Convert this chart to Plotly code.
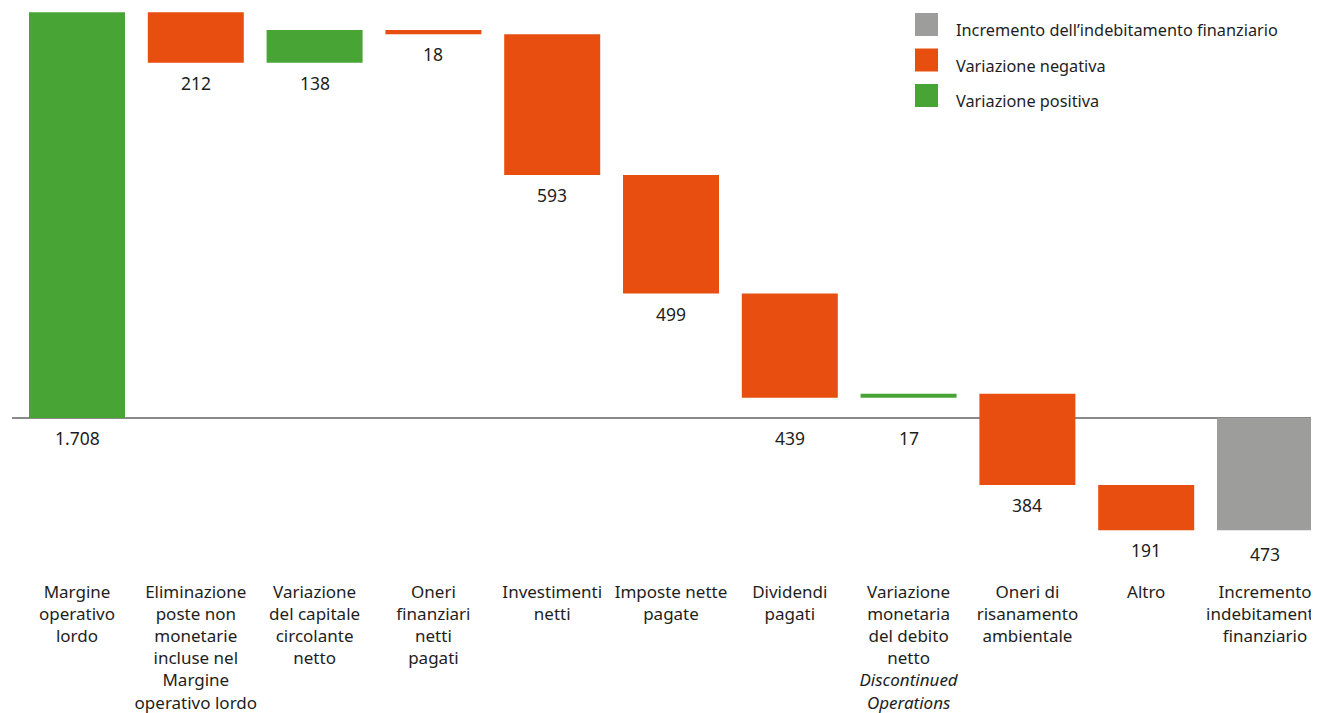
import numpy as np
import plotly.graph_objects as go

categories = [
    "Margine<br>operativo<br>lordo",
    "Eliminazione<br>poste non<br>monetarie<br>incluse nel<br>Margine<br>operativo lordo",
    "Variazione<br>del capitale<br>circolante<br>netto",
    "Oneri<br>finanziari<br>netti<br>pagati",
    "Investimenti<br>netti",
    "Imposte nette<br>pagate",
    "Dividendi<br>pagati",
    "Variazione<br>monetaria<br>del debito<br>netto<br><i>Discontinued</i><br><i>Operations</i>",
    "Oneri di<br>risanamento<br>ambientale",
    "Altro",
    "Incremento<br>indebitamento<br>finanziario",
]
changes = [1708, -212, 138, -18, -593, -499, -439, 17, -384, -191]
value_labels = ["1.708", "212", "138", "18", "593", "499", "439", "17", "384", "191", "473"]
legend_names = ["Incremento dell\u2019indebitamento finanziario", "Variazione negativa", "Variazione positiva"]

GREEN = "#48a434"
ORANGE = "#e84e0f"
GRAY = "#9d9d9c"
TEXT = "#1e1e1e"
FONT = "Noto Sans"

ch = np.array(changes, dtype=float)
ends = np.cumsum(ch)
starts = ends - ch
total = ends[-1]

bases = list(np.minimum(starts, ends)) + [min(0, total)]
heights = list(np.abs(ch)) + [abs(total)]
kinds = ["pos" if c > 0 else "neg" for c in ch] + ["tot"]
x = list(range(len(categories)))

OFF = 8  # page body margin
W, H = 1319, 713
ML, MR, MT, MB = 4, 0, 0, 141
PW, PH = W - ML - MR, H - MT - MB
scale = 0.2375
zero_px = 418 - OFF
ymax = zero_px / scale
ymin = -(PH - zero_px) / scale
unit = 118.8
x0 = -(77 - OFF - ML) / unit
xr = [x0, x0 + PW / unit]

fig = go.Figure()
for kind, color in [("pos", GREEN), ("neg", ORANGE), ("tot", GRAY)]:
    idx = [i for i, k in enumerate(kinds) if k == kind]
    fig.add_trace(go.Bar(
        x=[x[i] for i in idx],
        y=[heights[i] for i in idx],
        base=[bases[i] for i in idx],
        marker=dict(color=color, line=dict(width=0)),
        width=0.808,
        showlegend=False,
        hoverinfo="skip",
    ))

# value labels below each bar
for i in x:
    b = bases[i]
    ly = 0 if (0 <= b < 150) else b
    fig.add_annotation(x=i, y=ly, yref="y", xref="x", text=value_labels[i],
                       showarrow=False, yanchor="middle", yshift=-20 if i != 10 else -24,
                       font=dict(family=FONT, size=17.5, color=TEXT))

# legend (drawn)
def px_x(p):
    return (p - OFF - ML) / PW

def px_y(p):
    return 1 - (p - OFF - MT) / PH

legend_colors = [GRAY, ORANGE, GREEN]
for k, (name, col) in enumerate(zip(legend_names, legend_colors)):
    top = 13 + k * 35.5
    fig.add_shape(type="rect", xref="paper", yref="paper",
                  x0=px_x(915), x1=px_x(938), y0=px_y(top), y1=px_y(top + 23),
                  fillcolor=col, line=dict(width=0))
    fig.add_annotation(xref="paper", yref="paper", x=px_x(954), y=px_y(top + 17),
                       text=name, showarrow=False, xanchor="left", yanchor="middle",
                       font=dict(family=FONT, size=16.3, color=TEXT))

fig.update_layout(
    width=W, height=H,
    margin=dict(l=ML, r=MR, t=MT, b=MB),
    paper_bgcolor="white", plot_bgcolor="white",
    barmode="overlay",
    showlegend=False,
    font=dict(family=FONT, size=17, color=TEXT),
)
fig.update_xaxes(range=xr, tickmode="array", tickvals=x, ticktext=categories,
                 showgrid=False, zeroline=False, showline=False, ticks="",
                 tickangle=0, tickfont=dict(family=FONT, size=17, color=TEXT),
                 fixedrange=True)
fig.update_yaxes(range=[ymin, ymax], showgrid=False, showticklabels=False,
                 zeroline=True, zerolinecolor="#8a8a8a", zerolinewidth=1.5,
                 fixedrange=True)

fig.write_html("out.html")
